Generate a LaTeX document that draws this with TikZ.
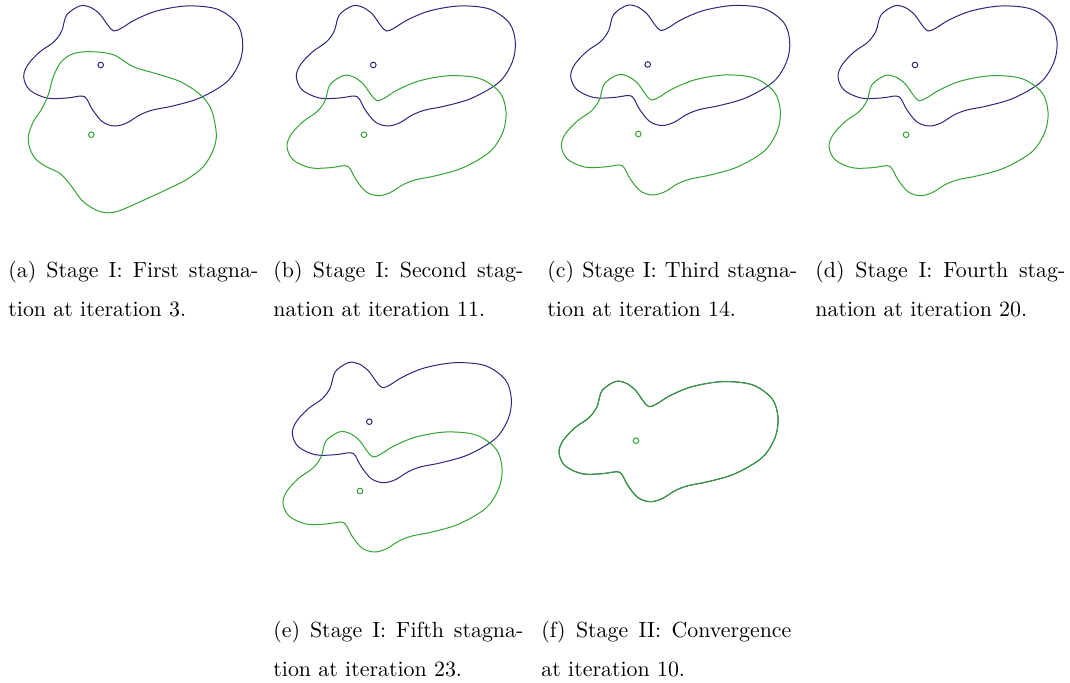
\documentclass[tikz,border=0pt]{standalone}
\usepackage{tikz}
\definecolor{navy}{RGB}{40,40,128}
\definecolor{leaf}{RGB}{50,165,50}
\tikzset{
  target/.style={navy, line width=0.5pt},
  estimate/.style={leaf, line width=0.5pt},
  ctr/.style={circle, inner sep=0pt, minimum size=2.8pt, line width=0.5pt},
  subcap/.style={anchor=base west, inner sep=0pt, text width=125pt, align=justify,
    font=\fontsize{10.95}{19.5}\selectfont},
  % the true shape, around its centre
  blob/.pic={
    \draw[pic actions] plot[smooth cycle, tension=0.55] coordinates {
      (-21,-59) (-11,-58) (-1,-51) (7,-40) (13,-34) (21,-37) (34,-45) (56,-54)
      (86,-59) (116,-56) (136,-42) (142,-23) (139,-3) (126,17) (99,33) (72,41)
      (52,45) (39,50) (26,58) (14,61) (2,57) (-8,45) (-14,34) (-19,31)
      (-34,33) (-54,33) (-71,25) (-77,12) (-73,0) (-61,-13) (-47,-23)
      (-39,-34) (-34,-50)};
  },
  % the first guess
  lump/.pic={
    \draw[pic actions] plot[smooth cycle, tension=0.55] coordinates {
      (-50,-25) (-43,-40) (-38,-58) (-30,-73) (-18,-81) (-1,-83) (22,-80) (42,-68)
      (65,-61) (89,-53) (109,-40) (120,-25) (125,-1) (122,15) (112,32) (95,45)
      (75,55) (49,67) (25,77) (9,77) (-8,67) (-21,50) (-31,39) (-45,32)
      (-55,25) (-61,15) (-63,2) (-58,-13)};
  }
}

\begin{document}
\begin{tikzpicture}[x=0.5pt, y=-0.5pt]
  \useasboundingbox (0,0) rectangle (1070,683);
  % (a)
  \node[ctr, draw=navy] (ta) at (100.7,65) {};
  \node[ctr, draw=leaf] (ea) at (91.3,134.7) {};
  \pic[target] at (ta) {blob};
  \pic[estimate] at (ea) {lump};
  % (b)
  \node[ctr, draw=navy] (tb) at (373.3,65) {};
  \node[ctr, draw=leaf] (eb) at (364,134.7) {};
  \pic[target] at (tb) {blob};
  \pic[estimate] at (eb) {blob};
  % (c)
  \node[ctr, draw=navy] (tc) at (647.7,64.5) {};
  \node[ctr, draw=leaf] (ec) at (638.3,134) {};
  \pic[target] at (tc) {blob};
  \pic[estimate] at (ec) {blob};
  % (d)
  \node[ctr, draw=navy] (td) at (915,65) {};
  \node[ctr, draw=leaf] (ed) at (906,134.7) {};
  \pic[target] at (td) {blob};
  \pic[estimate] at (ed) {blob};
  % (e)
  \node[ctr, draw=navy] (te) at (369.3,421.7) {};
  \node[ctr, draw=leaf] (ee) at (360,491) {};
  \pic[target] at (te) {blob};
  \pic[estimate] at (ee) {blob};
  % (f)
  \node[ctr, draw=leaf] (ef) at (636,440.7) {};
  \pic[target] at (ef) {blob};
  \pic[estimate] at (ef) {blob};

  \node[subcap] (capa) at (8,278) {(a) Stage I: First stagna-\linebreak tion at iteration 3.};
  \node[subcap] (capb) at (273,278) {(b) Stage I: Second stag-\linebreak nation at iteration 11.};
  \node[subcap] (capc) at (547,278) {(c) Stage I: Third stagna-\linebreak tion at iteration 14.};
  \node[subcap] (capd) at (815,278) {(d) Stage I: Fourth stag-\linebreak nation at iteration 20.};
  \node[subcap] (cape) at (273,637) {(e) Stage I: Fifth stagna-\linebreak tion at iteration 23.};
  \node[subcap] (capf) at (541,637) {(f) Stage II: Convergence\linebreak at iteration 10.};
\end{tikzpicture}
\end{document}
